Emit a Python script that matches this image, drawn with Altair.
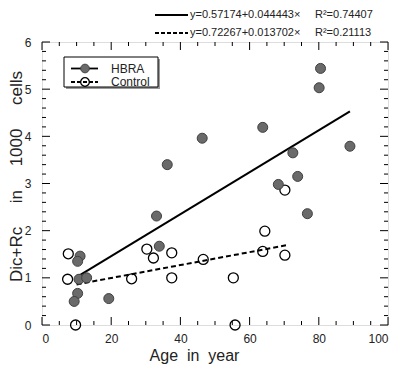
import altair as alt
import pandas as pd

# ---- data ----
hbra_age = [46.3, 36.2, 80.5, 80.1, 63.8, 89.0, 72.5, 73.9, 68.3, 76.7, 33.1, 33.9, 19.3, 11.0, 10.3, 10.7, 12.9, 10.3, 9.3]
hbra_val = [3.96, 3.40, 5.44, 5.03, 4.19, 3.79, 3.65, 3.15, 2.98, 2.36, 2.31, 1.67, 0.56, 1.46, 1.35, 0.97, 1.00, 0.67, 0.50]
ctrl_age = [70.2, 64.4, 63.8, 70.2, 55.3, 55.8, 46.6, 30.3, 32.2, 37.5, 37.5, 25.9, 7.6, 7.4, 9.7]
ctrl_val = [2.86, 1.99, 1.56, 1.48, 1.00, 0.00, 1.39, 1.61, 1.42, 1.53, 1.00, 0.98, 1.51, 0.97, 0.00]

hbra_fit = (0.57174, 0.044443)   # intercept, slope
ctrl_fit = (0.72267, 0.013702)
hbra_fit_range = [10, 89]
ctrl_fit_range = [10, 71]

x_major = [0, 20, 40, 60, 80, 100]
x_minor = [v for v in range(5, 100, 5) if v % 20 != 0]
y_major = [0, 1, 2, 3, 4, 5, 6]
y_minor = [round(i * 0.2, 1) for i in range(1, 30) if i % 5 != 0]

eq1 = "y=0.57174+0.044443\u00d7"
eq2 = "y=0.72267+0.013702\u00d7"
r1 = "R\u00b2=0.74407"
r2 = "R\u00b2=0.21113"

W, H = 346, 283
FONT = "Liberation Sans"
NB = "\u00a0"

xs = alt.Scale(domain=[0, 100], nice=False, zero=False)
ys = alt.Scale(domain=[0, 6], nice=False, zero=False)

ax_x = alt.Axis(
    title="Age" + NB * 2 + "in" + NB * 2 + "year", values=x_major, ticks=False, domain=False, grid=False,
    labelFontSize=12, labelFont=FONT, labelPadding=8, labelColor="#222",
    titleFontSize=16, titleFont=FONT, titleFontWeight="normal", titleColor="#222",
    titleX=152, titleY=35, titleAlign="center", titleBaseline="alphabetic")
ax_y = alt.Axis(
    title="Dic+Rc" + NB * 5 + "in" + NB * 5 + "1000" + NB * 5 + "cells", values=y_major,
    ticks=False, domain=False, grid=False,
    labelFontSize=12, labelFont=FONT, labelPadding=11, labelColor="#222",
    titleFontSize=17, titleFont=FONT, titleFontWeight="normal", titleColor="#222",
    titleX=-26, titleY=134, titleAlign="center", titleBaseline="middle", titleAngle=270)


def X(f):
    return alt.X(f, scale=xs, axis=ax_x)


def Y(f):
    return alt.Y(f, scale=ys, axis=ax_y)


hbra_df = pd.DataFrame({"age": hbra_age, "val": hbra_val})
ctrl_df = pd.DataFrame({"age": ctrl_age, "val": ctrl_val})
hfit_df = pd.DataFrame({"age": hbra_fit_range,
                        "val": [hbra_fit[0] + hbra_fit[1] * a for a in hbra_fit_range]})
cfit_df = pd.DataFrame({"age": ctrl_fit_range,
                        "val": [ctrl_fit[0] + ctrl_fit[1] * a for a in ctrl_fit_range]})
one = pd.DataFrame({"a": [0]})

ctrl_pts = alt.Chart(ctrl_df).mark_point(
    shape="circle", filled=False, size=100, color="black", strokeWidth=1.3, opacity=1, clip=False
).encode(x=X("age:Q"), y=Y("val:Q"))

hfit = alt.Chart(hfit_df).mark_line(color="black", strokeWidth=2).encode(x=X("age:Q"), y=Y("val:Q"))
cfit = alt.Chart(cfit_df).mark_line(color="black", strokeWidth=2, strokeDash=[5, 3]).encode(
    x=X("age:Q"), y=Y("val:Q"))

hbra_pts = alt.Chart(hbra_df).mark_circle(
    size=100, fill="#6a6a6a", stroke="#404040", strokeWidth=1, opacity=1, clip=False
).encode(x=X("age:Q"), y=Y("val:Q"))


def xticks(vals, length):
    d = pd.DataFrame({"age": vals})
    b = alt.Chart(d).mark_rule(color="black", strokeWidth=1).encode(
        x=X("age:Q"), y=alt.value(H), y2=alt.value(H - length))
    t = alt.Chart(d).mark_rule(color="black", strokeWidth=1).encode(
        x=X("age:Q"), y=alt.value(0), y2=alt.value(length))
    return [b, t]


def yticks(vals, length):
    d = pd.DataFrame({"val": vals})
    l = alt.Chart(d).mark_rule(color="black", strokeWidth=1).encode(
        y=Y("val:Q"), x=alt.value(0), x2=alt.value(length))
    r = alt.Chart(d).mark_rule(color="black", strokeWidth=1).encode(
        y=Y("val:Q"), x=alt.value(W), x2=alt.value(W - length))
    return [l, r]


ticks = xticks(x_major, 8) + xticks(x_minor, 4) + yticks(y_major, 8) + yticks(y_minor, 4)


def seg(x1, x2, y, dash=None):
    kw = dict(color="black", strokeWidth=1.8)
    if dash:
        kw["strokeDash"] = dash
    return alt.Chart(one).mark_rule(**kw).encode(x=alt.value(x1), x2=alt.value(x2), y=alt.value(y))


def txt(x, y, s, size=11, align="left"):
    return alt.Chart(one).mark_text(align=align, baseline="middle", fontSize=size, font=FONT,
                                    color="#222").encode(
        x=alt.value(x), y=alt.value(y), text=alt.value(s))


annot = [
    seg(113, 146, -27), txt(148, -27, eq1), txt(273, -27, r1),
    seg(113, 146, -9, [4, 2]), txt(148, -9, eq2), txt(273, -9, r2),
]

legend = [
    alt.Chart(one).mark_rect(fill="#999", stroke=None).encode(
        x=alt.value(24), x2=alt.value(118), y=alt.value(17), y2=alt.value(47)),
    alt.Chart(one).mark_rect(fill="white", stroke="black", strokeWidth=1).encode(
        x=alt.value(22), x2=alt.value(116), y=alt.value(15), y2=alt.value(45)),
    seg(29, 56, 26.5), seg(29, 56, 40, [4, 2]),
    alt.Chart(one).mark_circle(size=75, fill="#6a6a6a", stroke="#404040", strokeWidth=1, opacity=1).encode(
        x=alt.value(43), y=alt.value(26.5)),
    alt.Chart(one).mark_point(shape="circle", size=75, color="black", strokeWidth=1.3, filled=False,
                              opacity=1).encode(x=alt.value(43), y=alt.value(40)),
    txt(69, 26.5, "HBRA", 12), txt(69, 40, "Control", 12),
]

chart = alt.layer(ctrl_pts, hfit, cfit, hbra_pts, *ticks, *annot, *legend).properties(
    width=W, height=H,
    autosize=alt.AutoSizeParams(type="none"),
    padding={"left": 34, "top": 34, "right": 4, "bottom": 42},
).configure_view(stroke="black", strokeWidth=1.5).configure(background="white")

chart.save("out.html", embed_options={"renderer": "svg", "actions": False})
